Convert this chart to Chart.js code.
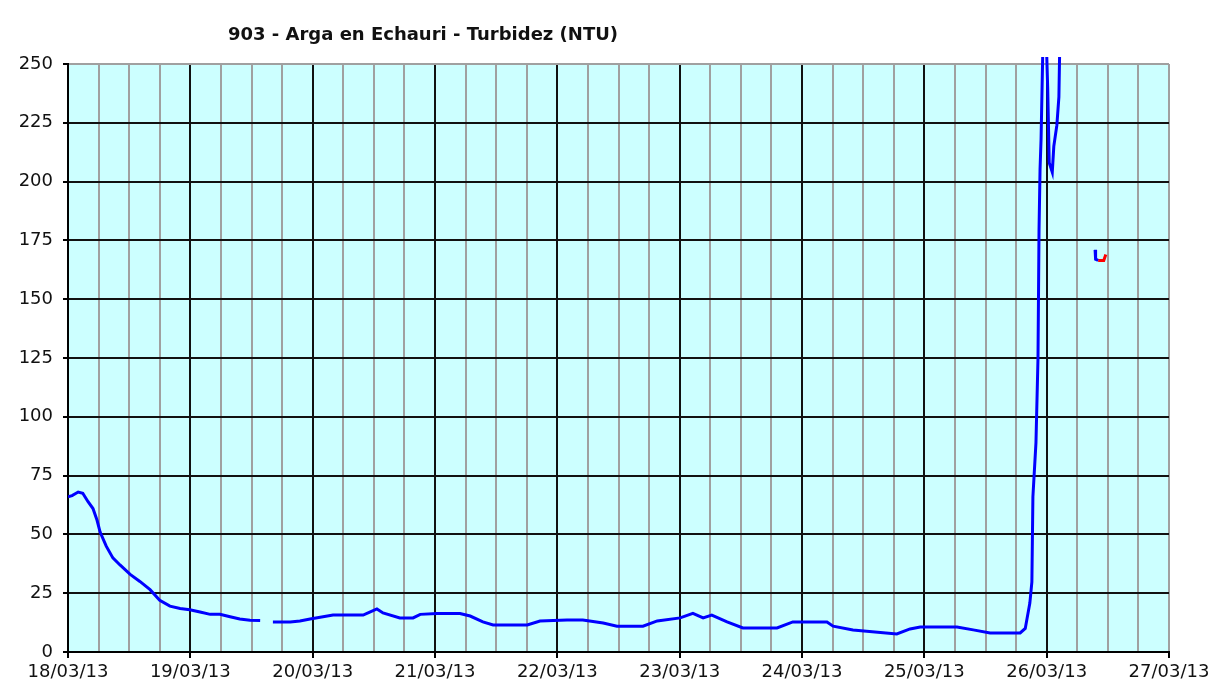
<!DOCTYPE html>
<html>
<head>
<meta charset="utf-8">
<title>903 - Arga en Echauri - Turbidez (NTU)</title>
<script src="https://cdn.jsdelivr.net/npm/chart.js@4.4.1/dist/chart.umd.min.js"></script>
<style>
    body { margin: 0; background: #ffffff; }
    #grafico { display: block; }
</style>
</head>
<body>
<canvas id="grafico" width="1217" height="688"></canvas>
<script>
// hours counted from 18/03/13 00:00
const dayLabels = ['18/03/13','19/03/13','20/03/13','21/03/13','22/03/13','23/03/13','24/03/13','25/03/13','26/03/13','27/03/13'];

// validated series (blue); null = gap in the record
const blueHours = [0.0, 0.8, 2.0, 2.9, 3.9, 4.9, 5.7, 6.3, 7.5, 8.8, 10.2, 12.2, 14.1, 16.1, 18.0, 20.0, 22.0, 23.9,
    25.9, 27.9, 29.8, 31.8, 33.7, 35.7, 37.7, 38.7,
    40.2, 43.6, 45.5, 47.5, 52.0, 57.9, 59.2, 60.6, 61.8, 65.1, 67.7, 69.1, 72.4, 76.9, 78.9, 81.4, 83.4,
    90.1, 92.6, 97.9, 101.0, 105.0, 107.7, 112.8, 115.6, 120.1, 122.6, 124.6, 126.3, 129.3, 132.4, 139.1,
    142.2, 148.9, 150.1, 154.0, 162.6, 165.2, 167.2, 174.4, 177.6, 180.9, 186.8, 187.8, 188.1, 188.7,
    189.1, 189.3, 189.9, 190.3, 190.5, 190.7, 190.9, 191.3, 191.9, 192.2, 192.5, 193.1, 193.4, 194.0,
    194.4, 194.6, 195.0,
    201.5, 201.6, 202.1];
const blueValues = [66, 66.5, 68, 67.5, 64, 61, 56, 51, 45, 40, 37, 33, 30, 26.5, 22, 19.5, 18.5, 18,
    17, 16, 16, 15, 14, 13.5, 13.4, null,
    12.8, 12.8, 13.2, 14, 15.7, 15.7, 17, 18.3, 16.6, 14.5, 14.5, 16, 16.4, 16.4, 15.3, 12.8, 11.5,
    11.5, 13.2, 13.6, 13.6, 12.3, 11, 11, 13.2, 14.5, 16.4, 14.5, 15.7, 12.8, 10.2, 10.2,
    12.8, 12.8, 11, 9.4, 7.7, 9.8, 10.6, 10.6, 9.4, 8.1, 8.1, 10, 13.6, 20.8,
    29.8, 66, 89, 125, 179, 205, 218, 262, 262, 240, 208, 204, 215, 224,
    236, 262, null,
    171, 167, 166.5];

// provisional series (red)
const redHours = [202.1, 203.2, 203.6];
const redValues = [166.5, 166.5, 169];

const yTicks = [0, 25, 50, 75, 100, 125, 150, 175, 200, 225, 250];

function to_points(hours, values)
{
    let pts = [];
    for(let i = 0; i < hours.length; i++)
    {
        pts.push({x: hours[i], y: values[i]});
    }
    return pts;
}

// cyan plot background + title placed like the original
const fondo = {
    id: 'fondo',
    beforeDraw(chart) {
        const ctx = chart.ctx;
        const a = chart.chartArea;
        ctx.save();
        ctx.fillStyle = '#ffffff';
        ctx.fillRect(0, 0, chart.width, chart.height);
        ctx.fillStyle = '#ccffff';
        ctx.fillRect(a.left, a.top, a.right - a.left, a.bottom - a.top);
        ctx.restore();
    },
    afterDraw(chart) {
        const ctx = chart.ctx;
        ctx.save();
        ctx.font = 'bold 18px "DejaVu Sans"';
        ctx.fillStyle = '#111111';
        ctx.textAlign = 'center';
        ctx.textBaseline = 'middle';
        ctx.fillText('903 - Arga en Echauri - Turbidez (NTU)', 423, 35);
        ctx.restore();
    }
};

var myChart = new Chart(document.getElementById('grafico'), {
    type: 'line',
    data: {
        datasets: [{
            label: 'Turbidez',
            data: to_points(blueHours, blueValues),
            borderColor: '#0000ff',
            borderWidth: 3,
            pointRadius: 0,
            tension: 0,
            spanGaps: false,
            clip: {left: 0, top: 7, right: 0, bottom: 0}
        }, {
            label: 'Turbidez (provisional)',
            data: to_points(redHours, redValues),
            borderColor: '#ff0000',
            borderWidth: 3,
            pointRadius: 0,
            tension: 0,
            clip: {left: 0, top: 7, right: 0, bottom: 0}
        }]
    },
    options: {
        responsive: false,
        animation: false,
        layout: { padding: {top: 64, right: 48, left: 0, bottom: 0} },
        plugins: {
            legend: { display: false },
            title: { display: false },
            tooltip: { enabled: false }
        },
        scales: {
            x: {
                type: 'linear',
                min: 0,
                max: 216,
                afterFit: function(scale) { scale.height = 36; },
                afterBuildTicks: function(scale) {
                    let t = [];
                    for(let h = 0; h <= 216; h += 6) t.push({value: h});
                    scale.ticks = t;
                },
                border: { color: '#000000', width: 2 },
                grid: {
                    lineWidth: 2,
                    tickLength: 6,
                    color: function(c) {
                        if(c.tick.value === 216) return '#a0a0a0';
                        return (c.tick.value % 24 === 0) ? '#111111' : '#a0a0a0';
                    },
                    tickColor: function(c) {
                        return (c.tick.value % 24 === 0) ? '#000000' : 'rgba(0,0,0,0)';
                    }
                },
                ticks: {
                    autoSkip: false,
                    maxRotation: 0,
                    padding: 4,
                    color: '#111111',
                    font: { family: 'DejaVu Sans', size: 18 },
                    callback: function(value) {
                        if(value % 24 !== 0) return '';
                        return dayLabels[value / 24];
                    }
                }
            },
            y: {
                min: 0,
                max: 250,
                afterFit: function(scale) { scale.width = 68; },
                afterBuildTicks: function(scale) {
                    scale.ticks = yTicks.map(v => ({value: v}));
                },
                border: { color: '#000000', width: 2 },
                grid: {
                    lineWidth: 2,
                    tickLength: 5,
                    color: function(c) {
                        return c.tick.value === 250 ? '#a0a0a0' : '#111111';
                    },
                    tickColor: '#000000'
                },
                ticks: {
                    padding: 10,
                    color: '#111111',
                    font: { family: 'DejaVu Sans', size: 18 }
                }
            }
        }
    },
    plugins: [fondo]
});
</script>
</body>
</html>
